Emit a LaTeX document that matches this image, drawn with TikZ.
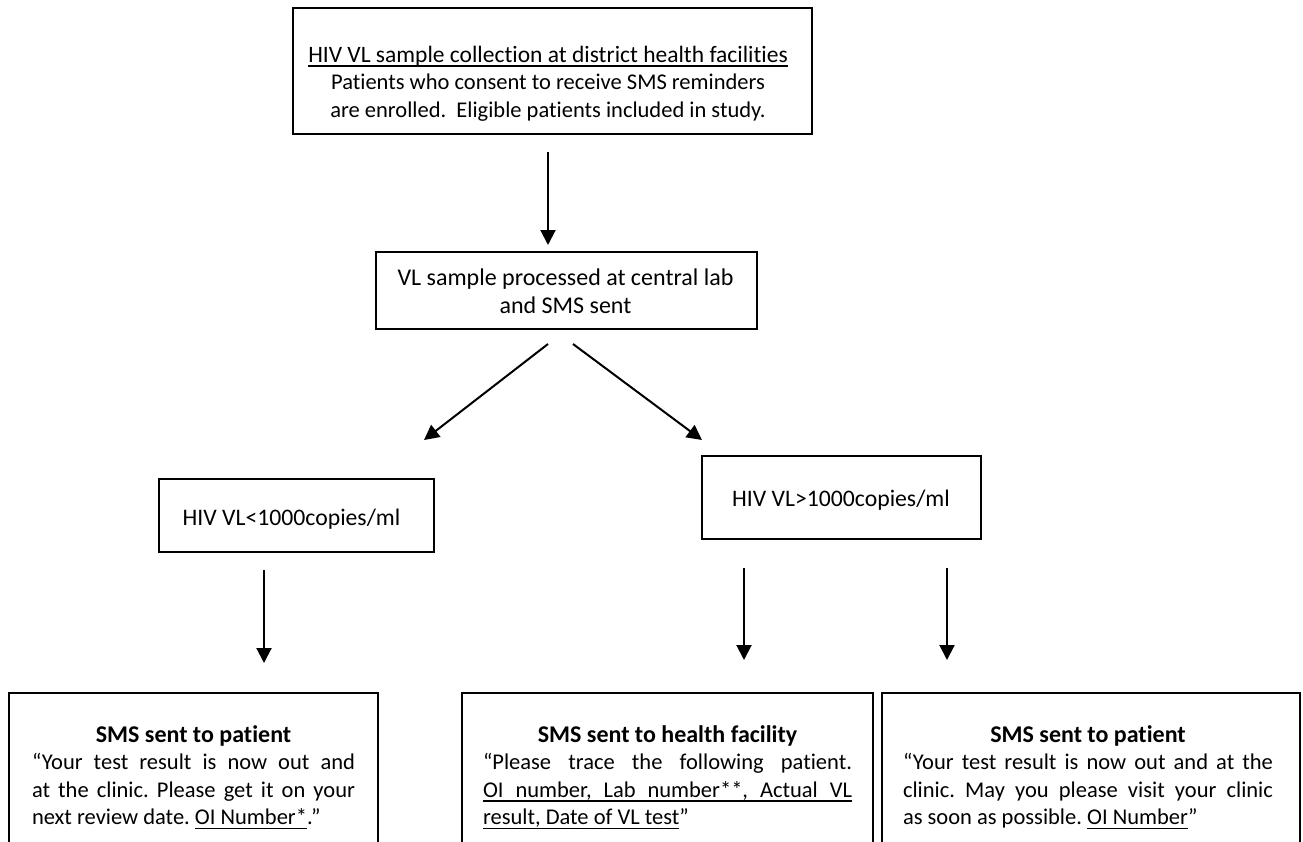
\documentclass[tikz,border=0pt]{standalone}
\usepackage{fontspec}
\setmainfont{Carlito}[Ligatures=NoCommon]
\usetikzlibrary{arrows.meta}
\frenchspacing
\newcommand\ulw[1]{\setbox0\hbox{#1}\rlap{\vrule height -3pt depth 4.6pt width \wd0}\box0}
\newcommand\ulsp{\leaders\hrule height -3pt depth 4.6pt\hskip\fontdimen2\font plus\fontdimen3\font minus\fontdimen4\font\relax}
\newcommand\smstitle[1]{\noindent\hbox to\linewidth{\hfil\fontsize{24}{27.5}\selectfont\bfseries\strut #1\hfil}\par\noindent}
\begin{document}
\begin{tikzpicture}[x=1pt,y=-1pt,
  box/.style={draw, line width=2pt, inner sep=0pt},
  txt/.style={inner sep=0pt, font=\fontsize{22.5}{27.5}\selectfont, align=center, anchor=north},
  jtxt/.style={inner sep=0pt, font=\fontsize{22.5}{27.5}\selectfont, align=justify, anchor=north},
  arr/.style={line width=2pt, -{Triangle[length=15pt,width=15pt]}}]
\useasboundingbox (0,0) rectangle (1303,841);
\clip (0,0) rectangle (1303,841);
% top box
\node[box, minimum width=519pt, minimum height=126pt] (top) at (552.5,70.5) {};
\node[txt] (toptxt) at (548,42.75) {{\fontsize{23.5}{27.5}\selectfont\strut\ulw{HIV}\ulsp\ulw{VL}\ulsp\ulw{sample}\ulsp\ulw{collection}\ulsp\ulw{at}\ulsp\ulw{district}\ulsp\ulw{health}\ulsp\ulw{facilities}}\\ Patients who consent to receive SMS reminders\\ are enrolled.\ \ Eligible patients included in study.};
% middle box
\node[box, minimum width=381pt, minimum height=77pt] (mid) at (566.5,290.5) {};
\node[txt, font=\fontsize{24}{28.5}\selectfont] (midtxt) at (565.5,265.05) {\strut VL sample processed at central lab\\ and SMS sent};
% split boxes
\node[box, minimum width=275pt, minimum height=73pt] (low) at (296.5,515.5) {};
\node[txt, font=\fontsize{23.7}{28}\selectfont] (lowtxt) at (291.5,505.4) {\strut HIV VL<1000copies/ml};
\node[box, minimum width=279pt, minimum height=83pt] (high) at (841.5,497.5) {};
\node[txt, font=\fontsize{23.7}{28}\selectfont] (hightxt) at (841,486.4) {\strut HIV VL>1000copies/ml};
% bottom boxes (cut by lower edge)
\node[box, minimum width=369pt, minimum height=167pt] (smsA) at (193.5,776.5) {};
\node[jtxt, text width=323pt] (smsAtxt) at (193.5,722.75) {\smstitle{SMS sent to patient}“Your test result is now out and\linebreak at the clinic. Please get it on your\linebreak next review date. \ulw{OI}\ulsp\ulw{Number*}.”};
\node[box, minimum width=411pt, minimum height=167pt] (smsB) at (667.5,776.5) {};
\node[jtxt, text width=369pt] (smsBtxt) at (667.5,722.75) {\smstitle{SMS sent to health facility}“Please trace the following patient.\linebreak \ulw{OI}\ulsp\ulw{number,}\ulsp\ulw{Lab}\ulsp\ulw{number**,}\ulsp\ulw{Actual}\ulsp\ulw{VL}\linebreak \ulw{result,}\ulsp\ulw{Date}\ulsp\ulw{of}\ulsp\ulw{VL}\ulsp\ulw{test}”};
\node[box, minimum width=418pt, minimum height=167pt] (smsC) at (1091,776.5) {};
\node[jtxt, text width=370pt] (smsCtxt) at (1088,722.75) {\smstitle{SMS sent to patient}“Your test result is now out and at the\linebreak clinic. May you please visit your clinic\linebreak as soon as possible. \ulw{OI}\ulsp\ulw{Number}”};
% arrows
\coordinate (a1s) at (548,152); \coordinate (a1e) at (548,245);
\coordinate (a2s) at (548,344); \coordinate (a2e) at (424,440);
\coordinate (a3s) at (573,344); \coordinate (a3e) at (702,440);
\coordinate (a4s) at (264,570); \coordinate (a4e) at (264,663);
\coordinate (a5s) at (744,568); \coordinate (a5e) at (744,660);
\coordinate (a6s) at (947,568); \coordinate (a6e) at (947,660);
\draw[arr] (a1s) -- (a1e);
\draw[arr] (a2s) -- (a2e);
\draw[arr] (a3s) -- (a3e);
\draw[arr] (a4s) -- (a4e);
\draw[arr] (a5s) -- (a5e);
\draw[arr] (a6s) -- (a6e);
\end{tikzpicture}
\end{document}
